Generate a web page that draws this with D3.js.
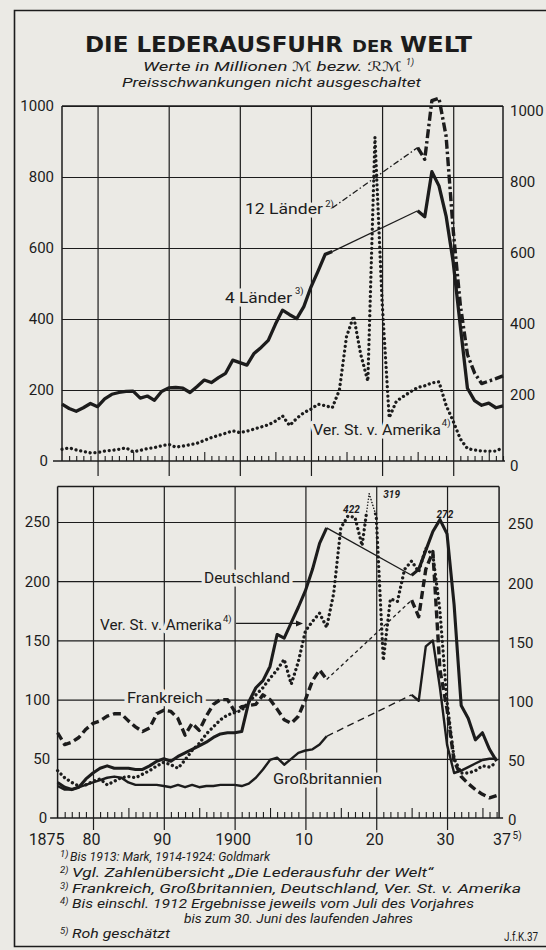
<!DOCTYPE html>
<html lang="de">
<head>
<meta charset="utf-8">
<title>Die Lederausfuhr der Welt</title>
<script src="https://cdn.jsdelivr.net/npm/d3@7"></script>
<style>
  html, body { margin: 0; padding: 0; background: #ebeae5; }
  svg { display: block; }
</style>
</head>
<body>
<svg id="chart" width="546" height="950" viewBox="0 0 546 950"></svg>
<script>
// ================= DATA =================
const yearsPre  = [1875,1876,1877,1878,1879,1880,1881,1882,1883,1884,1885,1886,1887,1888,1889,
                   1890,1891,1892,1893,1894,1895,1896,1897,1898,1899,1900,1901,1902,1903,1904,
                   1905,1906,1907,1908,1909,1910,1911,1912,1913];
const yearsWar  = [1914,1915,1916,1917,1918,1919,1920,1921,1922,1923,1924];
const yearsPost = [1925,1926,1927,1928,1929,1930,1931,1932,1933,1934,1935,1936,1937];
const yearsAll  = yearsPre.concat(yearsWar, yearsPost);
const decadeYears = [1880,1890,1900,1910,1920,1930];

// --- upper panel: world (Mill. M / RM) ---
const fourCountriesPre  = [160,148,140,150,162, 153,175,188,193,196, 197,177,183,171,196,
                           206,207,205,193,210, 228,221,235,247,284, 277,270,303,320,340,
                           385,425,412,401,435, 490,535,582,590];
const fourCountriesPost = [705,688,815,775,690,560,380,205,170,157,163,150,155];
const twelveYears       = [1913].concat(yearsPost);
const twelveCountries   = [713, 883,850,1015,1022,915,650,440,300,248,218,225,232,240];
const usaUpper = [33,37,31,27,23, 24,28,30,33,37, 26,30,35,38,43, 47,39,42,46,50,
                  58,66,72,78,85, 80,84,90,96,102, 112,127,100,120,136, 146,160,156,150,200,
                  350,408,300,225,912, 450,122,168,182,195, 207,212,220,223,157,
                  112,62,35,31,28, 28,28,38];

// --- lower panel: single countries ---
const germanyPre  = [30,26,24,26,33, 38,42,44,42,42, 42,41,41,44,48, 50,48,52,55,58,
                     61,64,68,71,72, 72,73,98,110,116, 128,155,152,165,178, 192,210,232,245];
const germanyPost = [205,210,226,242,252,240,180,95,84,66,72,58,48];
const francePre   = [72,62,64,68,75, 80,82,86,88,88, 82,77,73,76,88, 91,90,84,70,80,
                     74,86,96,100,100, 90,94,95,96,104, 100,92,83,80,86, 100,116,125,117];
const francePost  = [184,170,210,225,125,92,48,35,29,24,20,17,19];
const britainPre  = [27,24,24,26,28, 30,32,34,35,34, 30,28,28,28,28, 27,26,28,26,28,
                     26,27,27,28,28, 28,27,29,34,41, 49,51,45,50,55, 57,58,62,69];
const britainPost = [104,99,145,150,110,62,38,40,43,46,49,50,50];
const usaLower = [40,34,30,27,28, 31,33,28,31,34, 35,34,37,40,44, 47,45,42,49,57,
                  63,71,77,83,87, 89,91,98,104,110, 118,125,134,113,132, 158,166,173,161,190,
                  245,255,254,230,274, 255,133,185,183,210, 217,208,228,222,175,
                  98,50,38,38,40, 44,43,47];

// tick labels
const upperTicks = [0,200,400,600,800,1000];
const lowerTicks = [0,50,100,150,200,250];
const xTickYears  = [1875,1880,1890,1900,1910,1920,1930,1937];
const xTickLabels = ["1875","80","90","1900","10","20","30","37"];

// value notes written at broken-off peaks
const peakNotes = [
  { year: 1916.5, value: 258, text: "422", anchor: "middle" },
  { year: 1921.0, value: 270, text: "319", anchor: "start" },
  { year: 1929.7, value: 253, text: "272", anchor: "middle" }
];

// ================= DRAWING =================
const ink = "#1c1c1c";
const paper = "#ebeae5";
const sans = "Roboto, 'DejaVu Sans', sans-serif";
const svg = d3.select("#chart");

svg.append("rect").attr("width", 546).attr("height", 950).attr("fill", paper);
const defs = svg.append("defs");

// outer frame
svg.append("path").attr("d", "M546,10.5H14.5V946.5H546")
  .attr("fill", "none").attr("stroke", ink).attr("stroke-width", 1.6);

function label(parent, str, x, y, o = {}) {
  const t = parent.append("text")
    .attr("x", x).attr("y", y)
    .attr("font-family", o.family || sans)
    .attr("font-size", o.size || 15)
    .attr("font-weight", o.weight || "normal")
    .attr("font-style", o.italic ? "italic" : "normal")
    .attr("text-anchor", o.anchor || "start")
    .attr("fill", ink)
    .text(str);
  if (o.len) t.attr("textLength", o.len).attr("lengthAdjust", "spacingAndGlyphs");
  if (o.halo) t.attr("stroke", paper).attr("stroke-width", o.halo)
                .attr("stroke-linejoin", "round").attr("paint-order", "stroke");
  return t;
}

// ---- title ----
const titleFont = "'DejaVu Sans', sans-serif";
label(svg, "DIE LEDERAUSFUHR", 85, 52, { family: titleFont, size: 22, weight: "bold", len: 258 });
label(svg, "DER", 352, 52, { family: titleFont, size: 16, weight: "bold", len: 41 });
label(svg, "WELT", 400, 52, { family: titleFont, size: 22, weight: "bold", len: 72 });
label(svg, "Werte in Millionen \u2133 bezw. \u211B\u2133", 143, 71, { italic: true, size: 13, len: 259 });
label(svg, "1)", 406, 65, { italic: true, size: 9 });
label(svg, "Preisschwankungen nicht ausgeschaltet", 122, 87, { italic: true, size: 13, len: 299 });

// ---- panels ----
const upper = {
  x: d3.scaleLinear().domain([1875, 1937]).range([62, 503]),
  y: d3.scaleLinear().domain([0, 1000]).range([461, 106]),
  ceiling: 1000, rightYear: 1937, ticks: upperTicks,
  ext: 15, minor: 5, mid: 9, padL: 8, zeroPadL: 14, padR: 7, rightDy: 5,
  baseL: 9, baseR: 2, tickFont: 15
};
const lower = {
  x: d3.scaleLinear().domain([1875, 1937]).range([57.6, 496.6]),
  y: d3.scaleLinear().domain([0, 250]).range([818, 522]),
  ceiling: 280, rightYear: 1937.35, ticks: lowerTicks,
  ext: 12, minor: 6, mid: 10, padL: 7.5, zeroPadL: 10.5, padR: 9, rightDy: 2,
  baseL: 7.5, baseR: 4, tickFont: 15
};
const plain = d3.format("d");

function drawPanel(p) {
  const g = svg.append("g").attr("color", ink);
  const xl = p.x(1875), xr = p.x(p.rightYear), yb = p.y(0), yt = p.y(p.ceiling);
  const seg = (x1, y1, x2, y2, w) => g.append("line")
    .attr("x1", x1).attr("y1", y1).attr("x2", x2).attr("y2", y2)
    .attr("stroke", ink).attr("stroke-width", w);

  // horizontal grid
  g.append("g").attr("transform", `translate(${xl},0)`)
    .call(d3.axisLeft(p.y).tickValues(p.ticks.filter(v => v > 0)).tickSize(-(xr - xl)).tickFormat(""))
    .call(a => { a.select(".domain").remove(); a.selectAll("line").attr("stroke-width", 1.2); });
  seg(xl, yt, xr, yt, 1.4);

  // vertical decade lines, running a bit below the base line
  g.append("g").attr("transform", `translate(0,${yb + p.ext})`)
    .call(d3.axisTop(p.x).tickValues(decadeYears).tickSize(yb + p.ext - yt).tickFormat(""))
    .call(a => { a.select(".domain").remove(); a.selectAll("line").attr("stroke-width", 1.2); });

  // year ticks on base line
  g.append("g").attr("transform", `translate(0,${yb})`)
    .call(d3.axisTop(p.x).tickValues(yearsAll.filter(yr => yr % 5 !== 0)).tickSize(p.minor).tickFormat(""))
    .call(a => { a.select(".domain").remove(); a.selectAll("line").attr("stroke-width", 1.1); });
  g.append("g").attr("transform", `translate(0,${yb})`)
    .call(d3.axisTop(p.x).tickValues(yearsAll.filter(yr => yr % 10 === 5 && yr > 1875)).tickSize(p.mid).tickFormat(""))
    .call(a => { a.select(".domain").remove(); a.selectAll("line").attr("stroke-width", 1.1); });

  // side axes and base line
  seg(xl, yt, xl, yb, 1.5);
  seg(xr, yt, xr, yb, 1.5);
  seg(xl - p.baseL, yb, xr + p.baseR, yb, 1.6);

  // left value labels
  const left = g.append("g").attr("transform", `translate(${xl},0)`)
    .call(d3.axisLeft(p.y).tickValues(p.ticks).tickFormat(plain).tickSize(0).tickPadding(p.padL));
  left.select(".domain").remove();
  left.attr("font-family", sans).attr("font-size", p.tickFont);
  left.selectAll(".tick text").attr("x", d => d === 0 ? -p.zeroPadL : -p.padL);

  // right value labels
  const right = g.append("g").attr("transform", `translate(${xr},${p.rightDy})`)
    .call(d3.axisRight(p.y).tickValues(p.ticks).tickFormat(plain).tickSize(0).tickPadding(p.padR));
  right.select(".domain").remove();
  right.attr("font-family", sans).attr("font-size", p.tickFont);
  return g;
}

drawPanel(upper);
drawPanel(lower);

// year labels under the lower panel
const xAxis = svg.append("g").attr("color", ink)
  .attr("transform", `translate(0,${lower.y(0)})`)
  .call(d3.axisBottom(lower.x).tickValues(xTickYears)
        .tickFormat((d, i) => xTickLabels[i]).tickSize(0).tickPadding(16));
xAxis.select(".domain").remove();
xAxis.attr("font-family", sans).attr("font-size", 16);
xAxis.selectAll(".tick text")
  .attr("text-anchor", d => d === 1875 ? "end" : "middle")
  .attr("dx", d => d === 1875 ? 6.5 : (d === 1937 ? 5 : -2));
label(svg, "5)", lower.x(1937) + 16, 839, { size: 10 });

// ---- labels inside the panels (with paper halo over the grid) ----
const halo = 7;
function panelLabel(p, str, year, value, len, o = {}) {
  return label(svg, str, p.x(year), p.y(value), Object.assign({ size: 15, len: len, halo: halo }, o));
}
function supLabel(p, str, year, value) {
  return label(svg, str, p.x(year), p.y(value), { size: 9.5, halo: 4 });
}
panelLabel(upper, "12 L\u00e4nder", 1900.73, 696, 78);
supLabel(upper, "2)", 1912.0, 716);
panelLabel(upper, "4 L\u00e4nder", 1897.92, 445, 67);
supLabel(upper, "3)", 1907.76, 470);
panelLabel(upper, "Ver. St. v. Amerika", 1910.29, 73, 128);
supLabel(upper, "4)", 1928.4, 99);

panelLabel(lower, "Deutschland", 1895.68, 198.5, 86);
panelLabel(lower, "Ver. St. v. Amerika", 1880.99, 158.8, 122);
supLabel(lower, "4)", 1898.36, 165.5);
panelLabel(lower, "Frankreich", 1884.8, 97.1, 76);
panelLabel(lower, "Gro\u00dfbritannien", 1905.42, 28.7, 109);

// leader arrow from the lower USA label
{
  const x1 = lower.x(1900.2), x2 = lower.x(1909.66), yy = lower.y(164.3);
  svg.append("line").attr("x1", x1).attr("y1", yy).attr("x2", x2 - 5).attr("y2", yy)
    .attr("stroke", ink).attr("stroke-width", 1.2);
  svg.append("path").attr("d", `M${x2},${yy}L${x2 - 7},${yy - 3}L${x2 - 7},${yy + 3}Z`).attr("fill", ink);
}

// ---- series ----
const layer = svg.append("g");
function drawSeries(p, years, values, st) {
  const data = years.map((year, i) => ({ year, value: values[i] }));
  const gen = d3.line().x(d => p.x(d.year)).y(d => p.y(d.value));
  const path = layer.append("path").datum(data).attr("d", gen)
    .attr("fill", "none").attr("stroke", ink)
    .attr("stroke-width", st.width)
    .attr("stroke-linejoin", "round")
    .attr("stroke-linecap", st.cap || "butt");
  if (st.dash) path.attr("stroke-dasharray", st.dash);
  if (st.clip) path.attr("clip-path", `url(#${st.clip})`);
  return path;
}
const last = a => a[a.length - 1];

const solidThick   = { width: 3.3 };
const solidThin    = { width: 1.3 };
const dashDotThick = { width: 3.4, dash: "9,3,2.5,3" };
const dashDotThin  = { width: 1.3, dash: "6,2.5,1.5,2.5" };
const dotted       = { width: 3.3, dash: "0.01,4.8", cap: "round" };
const dashedThick  = { width: 3.4, dash: "8,4" };
const dashedFine   = { width: 1.3, dash: "3.5,3" };
const dashedLong   = { width: 1.4, dash: "7,4.5" };
const britainLine  = { width: 2.4 };

// upper panel
drawSeries(upper, yearsAll, usaUpper, dotted);
drawSeries(upper, twelveYears.slice(0, 2), twelveCountries.slice(0, 2), dashDotThin);
drawSeries(upper, twelveYears.slice(1), twelveCountries.slice(1), dashDotThick);
drawSeries(upper, yearsPre, fourCountriesPre, solidThick);
drawSeries(upper, [last(yearsPre), yearsPost[0]], [last(fourCountriesPre), fourCountriesPost[0]], solidThin);
drawSeries(upper, yearsPost, fourCountriesPost, solidThick);

// lower panel
const usaBreak = 258;
defs.append("clipPath").attr("id", "usaLow").append("rect")
  .attr("x", 0).attr("width", 546).attr("y", lower.y(usaBreak)).attr("height", 950);
defs.append("clipPath").attr("id", "usaHigh").append("rect")
  .attr("x", 0).attr("width", 546).attr("y", 0).attr("height", lower.y(usaBreak));

drawSeries(lower, yearsPre, britainPre, britainLine);
drawSeries(lower, [last(yearsPre), yearsPost[0]], [last(britainPre), britainPost[0]], dashedLong);
drawSeries(lower, yearsPost, britainPost, britainLine);

drawSeries(lower, yearsPre, francePre, dashedThick);
drawSeries(lower, [last(yearsPre), yearsPost[0]], [last(francePre), francePost[0]], dashedFine);
drawSeries(lower, yearsPost, francePost, dashedThick);

drawSeries(lower, yearsAll, usaLower, Object.assign({}, dotted, { clip: "usaLow" }));
drawSeries(lower, yearsAll, usaLower, { width: 1.6, dash: "0.01,3", cap: "round", clip: "usaHigh" });

drawSeries(lower, yearsPre, germanyPre, { width: 3.1 });
drawSeries(lower, [last(yearsPre), yearsPost[0]], [last(germanyPre), germanyPost[0]], solidThin);
drawSeries(lower, yearsPost, germanyPost, { width: 3.1 });

// peak notes
peakNotes.forEach(n => label(svg, n.text, lower.x(n.year), lower.y(n.value),
  { size: 10, weight: "bold", italic: true, anchor: n.anchor }));

// ---- footnotes ----
const notes = [
  { sup: "1)", text: "Bis 1913: Mark, 1914-1924: Goldmark", x: 70, y: 861, len: 200 },
  { sup: "2)", text: "Vgl. Zahlen\u00fcbersicht \u201eDie Lederausfuhr der Welt\u201c", x: 72, y: 877, len: 361 },
  { sup: "3)", text: "Frankreich, Gro\u00dfbritannien, Deutschland, Ver. St. v. Amerika", x: 72, y: 893, len: 449 },
  { sup: "4)", text: "Bis einschl. 1912 Ergebnisse jeweils vom Juli des Vorjahres", x: 72, y: 908, len: 402 },
  { sup: "",   text: "bis zum 30. Juni des laufenden Jahres", x: 184, y: 923, len: 229 },
  { sup: "5)", text: "Roh gesch\u00e4tzt", x: 72, y: 938, len: 98 }
];
notes.forEach(n => {
  if (n.sup) label(svg, n.sup, 60, n.y - 4, { size: 9.5, italic: true });
  label(svg, n.text, n.x, n.y, { size: 12, italic: true, len: n.len });
});
label(svg, "J.f.K.37", 538, 941, { size: 12, anchor: "end", len: 34 });
</script>
</body>
</html>
